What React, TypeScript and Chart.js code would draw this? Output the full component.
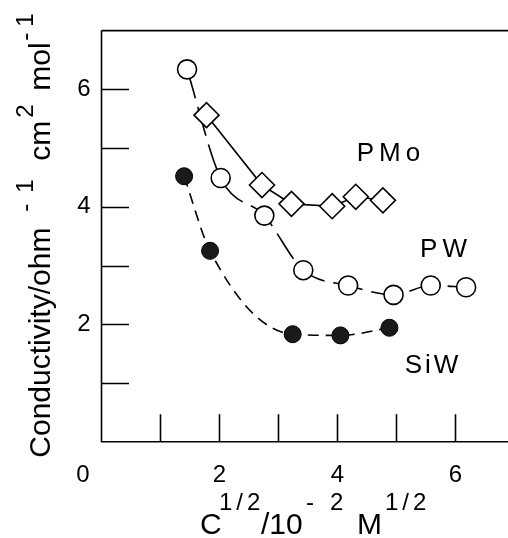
import React, { useEffect, useRef } from 'react';
import { Chart, registerables } from 'chart.js';

Chart.register(...registerables);

if (typeof document !== 'undefined') {
  document.documentElement.style.overflow = 'hidden';
  document.body.style.margin = '0';
  document.body.style.overflow = 'hidden';
}

// ---- data ----
const xPW = [1.45, 2.02, 2.76, 3.42, 4.18, 4.95, 5.58, 6.18];
const yPW = [6.34, 4.49, 3.85, 2.92, 2.66, 2.5, 2.66, 2.63];
const xPMo = [1.78, 2.72, 3.22, 3.91, 4.31, 4.77];
const yPMo = [5.56, 4.37, 4.05, 4.01, 4.17, 4.11];
const xSiW = [1.4, 1.84, 3.24, 4.05, 4.88];
const ySiW = [4.52, 3.25, 1.83, 1.81, 1.94];

const xTickLabels = ['', '', '2', '', '4', '', '6'];
const yTickLabels = ['', '', '2', '', '4', '', '6', ''];
const cornerLabel = '0';
const seriesNames = ['PMo', 'PW', 'SiW'];
const seriesLabelX = [4.325, 5.4, 5.14];
const seriesLabelY = [4.78, 3.145, 1.175];

const FONT = '"Liberation Sans", Arial, Helvetica, sans-serif';
const TICK_LEN = 27.5;

type Seg = { t: string; sup?: boolean; at: number; ls?: number };
const xTitleSegs: Seg[] = [
  { t: 'C', at: 0 },
  { t: '1/2', sup: true, at: 19, ls: 4 },
  { t: '/10', at: 61 },
  { t: '-', sup: true, at: 106 },
  { t: '2', sup: true, at: 130 },
  { t: 'M', at: 157 },
  { t: '1/2', sup: true, at: 185, ls: 4 },
];
const yTitleSegs: Seg[] = [
  { t: 'Conductivity/ohm', at: 0 },
  { t: '-', sup: true, at: 246 },
  { t: '1', sup: true, at: 265 },
  { t: 'cm', at: 297 },
  { t: '2', sup: true, at: 340 },
  { t: 'mol', at: 367 },
  { t: '-', sup: true, at: 417 },
  { t: '1', sup: true, at: 431 },
];

function drawSegs(ctx: CanvasRenderingContext2D, segs: Seg[], mainSize: number, supSize: number, raise: number) {
  for (const s of segs) {
    const size = s.sup ? supSize : mainSize;
    ctx.font = `${size}px ${FONT}`;
    (ctx as any).letterSpacing = `${s.ls || 0}px`;
    ctx.fillText(s.t, s.at, s.sup ? -raise : 0);
  }
  (ctx as any).letterSpacing = '0px';
}

const framePlugin = {
  id: 'frame',
  beforeDatasetsDraw(chart: any) {
    const { ctx, chartArea: ca, scales } = chart;
    const xs = scales.x;
    const ys = scales.y;
    ctx.save();
    ctx.strokeStyle = '#000';
    ctx.lineWidth = 1.6;
    ctx.beginPath();
    ctx.moveTo(ca.left, ca.top);
    ctx.lineTo(ca.left, ca.bottom);
    ctx.lineTo(ca.right, ca.bottom);
    ctx.moveTo(ca.left, ca.top);
    ctx.lineTo(ca.right, ca.top);
    for (let v = 1; v < ys.max; v++) {
      const py = Math.round(ys.getPixelForValue(v)) + 0.5;
      ctx.moveTo(ca.left, py);
      ctx.lineTo(ca.left + TICK_LEN, py);
    }
    for (let v = 1; v < xs.max; v++) {
      const px = Math.round(xs.getPixelForValue(v)) + 0.5;
      ctx.moveTo(px, ca.bottom);
      ctx.lineTo(px, ca.bottom - TICK_LEN);
    }
    ctx.stroke();
    ctx.restore();
  },
  afterDraw(chart: any) {
    const { ctx, chartArea: ca, scales } = chart;
    const xs = scales.x;
    const ys = scales.y;
    ctx.save();
    ctx.fillStyle = '#000';

    // corner "0" shared by both axes
    ctx.font = `24px ${FONT}`;
    ctx.textAlign = 'right';
    ctx.textBaseline = 'middle';
    ctx.fillText(cornerLabel, ca.left - 12, ca.bottom + 19 + 24 * 1.2 / 2);
    ctx.textAlign = 'left';
    ctx.textBaseline = 'alphabetic';

    // series labels
    ctx.font = `26px ${FONT}`;
    const spacing = [5, 5, 3];
    seriesNames.forEach((n, i) => {
      (ctx as any).letterSpacing = `${spacing[i]}px`;
      ctx.fillText(n, xs.getPixelForValue(seriesLabelX[i]), ys.getPixelForValue(seriesLabelY[i]));
    });
    (ctx as any).letterSpacing = '0px';

    // x title
    ctx.save();
    ctx.translate(ca.left + 98.5, chart.height - 4);
    drawSegs(ctx, xTitleSegs, 30, 24, 24);
    ctx.restore();

    // y title (rotated)
    ctx.save();
    ctx.translate(50, ca.bottom + 16);
    ctx.rotate(-Math.PI / 2);
    drawSegs(ctx, yTitleSegs, 30, 24, 17);
    ctx.restore();

    ctx.restore();
  },
};

function pts(xs: number[], ys: number[]) {
  return xs.map((x, i) => ({ x, y: ys[i] }));
}

function noPad(s: any) {
  s.paddingLeft = 0;
  s.paddingRight = 0;
  s.paddingTop = 0;
  s.paddingBottom = 0;
}

const hiddenGrid = (len: number) => ({
  display: true,
  drawOnChartArea: false,
  drawTicks: true,
  tickLength: len,
  color: 'rgba(0,0,0,0)',
});

export default function App() {
  const ref = useRef<HTMLCanvasElement | null>(null);
  useEffect(() => {
    const canvas = ref.current;
    if (!canvas) return;
    const chart = new Chart(canvas, {
      type: 'scatter',
      data: {
        datasets: [
          {
            label: 'PMo',
            data: pts(xPMo, yPMo),
            showLine: true,
            borderColor: '#000',
            borderWidth: 1.6,
            tension: 0,
            pointStyle: 'rectRot',
            pointRadius: 12.5,
            pointBorderWidth: 1.6,
            pointBorderColor: '#000',
            pointBackgroundColor: '#fff',
            order: 0,
          },
          {
            label: 'PW',
            data: pts(xPW, yPW),
            showLine: true,
            borderColor: '#000',
            borderWidth: 1.6,
            borderDash: [30, 9],
            cubicInterpolationMode: 'monotone',
            pointStyle: 'circle',
            pointRadius: 9.5,
            pointBorderWidth: 1.6,
            pointBorderColor: '#000',
            pointBackgroundColor: '#fff',
            order: 1,
          },
          {
            label: 'SiW',
            data: pts(xSiW, ySiW),
            showLine: true,
            borderColor: '#000',
            borderWidth: 1.6,
            borderDash: [11, 7],
            cubicInterpolationMode: 'monotone',
            pointStyle: 'circle',
            pointRadius: 8.5,
            pointBorderWidth: 1,
            pointBorderColor: '#000',
            pointBackgroundColor: '#1a1a1a',
            order: 2,
          },
        ],
      } as any,
      options: {
        animation: false,
        responsive: false,
        maintainAspectRatio: false,
        devicePixelRatio: 1,
        events: [],
        layout: { autoPadding: false, padding: { top: 30.6, left: 0, right: 0, bottom: 0 } },
        plugins: { legend: { display: false }, tooltip: { enabled: false } },
        scales: {
          x: {
            type: 'linear',
            min: 0,
            max: 6.89,
            afterFit: (s: any) => {
              s.height = 96.3;
              noPad(s);
            },
            grid: hiddenGrid(19),
            border: { display: false },
            ticks: {
              stepSize: 1,
              includeBounds: false,
              autoSkip: false,
              maxRotation: 0,
              padding: 0,
              color: '#000',
              font: { family: FONT, size: 24 },
              callback: (v: any) => xTickLabels[Number(v)] ?? '',
            },
          },
          y: {
            type: 'linear',
            min: 0,
            max: 7,
            afterFit: (s: any) => {
              s.width = 101.5;
              noPad(s);
            },
            grid: hiddenGrid(11),
            border: { display: false },
            ticks: {
              stepSize: 1,
              autoSkip: false,
              padding: 0,
              color: '#000',
              font: { family: FONT, size: 24 },
              callback: (v: any) => yTickLabels[Number(v)] ?? '',
            },
          },
        },
      } as any,
      plugins: [framePlugin],
    });
    return () => chart.destroy();
  }, []);
  return (
    <div style={{ width: 508, height: 538, position: 'relative', overflow: 'hidden' }}>
      <canvas ref={ref} width={508} height={538} style={{ display: 'block', width: 508, height: 538 }} />
    </div>
  );
}
